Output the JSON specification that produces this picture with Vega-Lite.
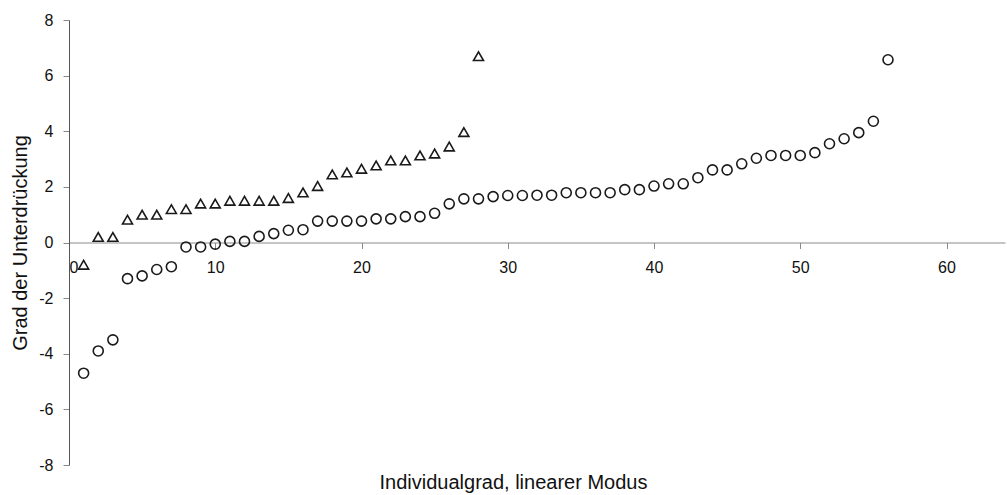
{
  "$schema": "https://vega.github.io/schema/vega-lite/v6.json",
  "width": 936,
  "height": 445,
  "autosize": {"type": "none"},
  "padding": {"left": 69, "top": 20, "right": 2, "bottom": 30},
  "background": "white",
  "config": {
    "view": {"stroke": null},
    "font": "Liberation Sans",
    "axis": {"grid": false, "labelFont": "Liberation Sans", "titleFont": "Liberation Sans", "labelColor": "#111", "titleColor": "#111", "labelFontSize": 16, "titleFontSize": 20, "titleFontWeight": "normal"}
  },
  "data": {
    "values": [
      {"x": 1, "y": -0.8, "gruppe": "A"},
      {"x": 2, "y": 0.2, "gruppe": "A"},
      {"x": 3, "y": 0.2, "gruppe": "A"},
      {"x": 4, "y": 0.82, "gruppe": "A"},
      {"x": 5, "y": 1.0, "gruppe": "A"},
      {"x": 6, "y": 1.0, "gruppe": "A"},
      {"x": 7, "y": 1.2, "gruppe": "A"},
      {"x": 8, "y": 1.2, "gruppe": "A"},
      {"x": 9, "y": 1.4, "gruppe": "A"},
      {"x": 10, "y": 1.4, "gruppe": "A"},
      {"x": 11, "y": 1.5, "gruppe": "A"},
      {"x": 12, "y": 1.5, "gruppe": "A"},
      {"x": 13, "y": 1.5, "gruppe": "A"},
      {"x": 14, "y": 1.5, "gruppe": "A"},
      {"x": 15, "y": 1.6, "gruppe": "A"},
      {"x": 16, "y": 1.8, "gruppe": "A"},
      {"x": 17, "y": 2.03, "gruppe": "A"},
      {"x": 18, "y": 2.45, "gruppe": "A"},
      {"x": 19, "y": 2.52, "gruppe": "A"},
      {"x": 20, "y": 2.65, "gruppe": "A"},
      {"x": 21, "y": 2.77, "gruppe": "A"},
      {"x": 22, "y": 2.95, "gruppe": "A"},
      {"x": 23, "y": 2.95, "gruppe": "A"},
      {"x": 24, "y": 3.13, "gruppe": "A"},
      {"x": 25, "y": 3.2, "gruppe": "A"},
      {"x": 26, "y": 3.45, "gruppe": "A"},
      {"x": 27, "y": 3.97, "gruppe": "A"},
      {"x": 28, "y": 6.7, "gruppe": "A"},
      {"x": 1, "y": -4.7, "gruppe": "B"},
      {"x": 2, "y": -3.9, "gruppe": "B"},
      {"x": 3, "y": -3.5, "gruppe": "B"},
      {"x": 4, "y": -1.3, "gruppe": "B"},
      {"x": 5, "y": -1.2, "gruppe": "B"},
      {"x": 6, "y": -0.97, "gruppe": "B"},
      {"x": 7, "y": -0.87, "gruppe": "B"},
      {"x": 8, "y": -0.16, "gruppe": "B"},
      {"x": 9, "y": -0.16, "gruppe": "B"},
      {"x": 10, "y": -0.06, "gruppe": "B"},
      {"x": 11, "y": 0.04, "gruppe": "B"},
      {"x": 12, "y": 0.04, "gruppe": "B"},
      {"x": 13, "y": 0.22, "gruppe": "B"},
      {"x": 14, "y": 0.32, "gruppe": "B"},
      {"x": 15, "y": 0.44, "gruppe": "B"},
      {"x": 16, "y": 0.46, "gruppe": "B"},
      {"x": 17, "y": 0.77, "gruppe": "B"},
      {"x": 18, "y": 0.77, "gruppe": "B"},
      {"x": 19, "y": 0.77, "gruppe": "B"},
      {"x": 20, "y": 0.77, "gruppe": "B"},
      {"x": 21, "y": 0.85, "gruppe": "B"},
      {"x": 22, "y": 0.85, "gruppe": "B"},
      {"x": 23, "y": 0.93, "gruppe": "B"},
      {"x": 24, "y": 0.93, "gruppe": "B"},
      {"x": 25, "y": 1.05, "gruppe": "B"},
      {"x": 26, "y": 1.39, "gruppe": "B"},
      {"x": 27, "y": 1.57, "gruppe": "B"},
      {"x": 28, "y": 1.57, "gruppe": "B"},
      {"x": 29, "y": 1.65, "gruppe": "B"},
      {"x": 30, "y": 1.69, "gruppe": "B"},
      {"x": 31, "y": 1.69, "gruppe": "B"},
      {"x": 32, "y": 1.7, "gruppe": "B"},
      {"x": 33, "y": 1.7, "gruppe": "B"},
      {"x": 34, "y": 1.79, "gruppe": "B"},
      {"x": 35, "y": 1.79, "gruppe": "B"},
      {"x": 36, "y": 1.79, "gruppe": "B"},
      {"x": 37, "y": 1.79, "gruppe": "B"},
      {"x": 38, "y": 1.9, "gruppe": "B"},
      {"x": 39, "y": 1.9, "gruppe": "B"},
      {"x": 40, "y": 2.03, "gruppe": "B"},
      {"x": 41, "y": 2.11, "gruppe": "B"},
      {"x": 42, "y": 2.11, "gruppe": "B"},
      {"x": 43, "y": 2.33, "gruppe": "B"},
      {"x": 44, "y": 2.61, "gruppe": "B"},
      {"x": 45, "y": 2.61, "gruppe": "B"},
      {"x": 46, "y": 2.83, "gruppe": "B"},
      {"x": 47, "y": 3.03, "gruppe": "B"},
      {"x": 48, "y": 3.13, "gruppe": "B"},
      {"x": 49, "y": 3.13, "gruppe": "B"},
      {"x": 50, "y": 3.13, "gruppe": "B"},
      {"x": 51, "y": 3.23, "gruppe": "B"},
      {"x": 52, "y": 3.55, "gruppe": "B"},
      {"x": 53, "y": 3.73, "gruppe": "B"},
      {"x": 54, "y": 3.95, "gruppe": "B"},
      {"x": 55, "y": 4.36, "gruppe": "B"},
      {"x": 56, "y": 6.57, "gruppe": "B"}
    ]
  },
  "mark": {"type": "point", "filled": false, "strokeWidth": 1.6, "opacity": 1},
  "encoding": {
    "x": {
      "field": "x", "type": "quantitative",
      "scale": {"domain": [0, 64], "nice": false, "zero": true},
      "axis": {
        "values": [0, 10, 20, 30, 40, 50, 60],
        "offset": -222.5,
        "domainColor": "#8a8a8a", "tickColor": "#8a8a8a", "tickSize": 6, "labelPadding": 11,
        "title": "Individualgrad, linearer Modus",
        "titleX": 444, "titleY": 240, "titleBaseline": "middle", "titleAnchor": null
      }
    },
    "y": {
      "field": "y", "type": "quantitative",
      "scale": {"domain": [-8, 8], "nice": false},
      "axis": {
        "values": [-8, -6, -4, -2, 0, 2, 4, 6, 8],
        "labelExpr": "datum.value + ''",
        "domainColor": "#555", "tickColor": "#888", "tickSize": 6, "labelPadding": 10,
        "title": "Grad der Unterdrückung", "titlePadding": 8
      }
    },
    "shape": {
      "field": "gruppe", "type": "nominal",
      "scale": {"domain": ["A", "B"], "range": ["triangle-up", "circle"]},
      "legend": null
    },
    "size": {
      "field": "gruppe", "type": "nominal",
      "scale": {"domain": ["A", "B"], "range": [100, 100]},
      "legend": null
    },
    "color": {"value": "#1a1a1a"}
  }
}
